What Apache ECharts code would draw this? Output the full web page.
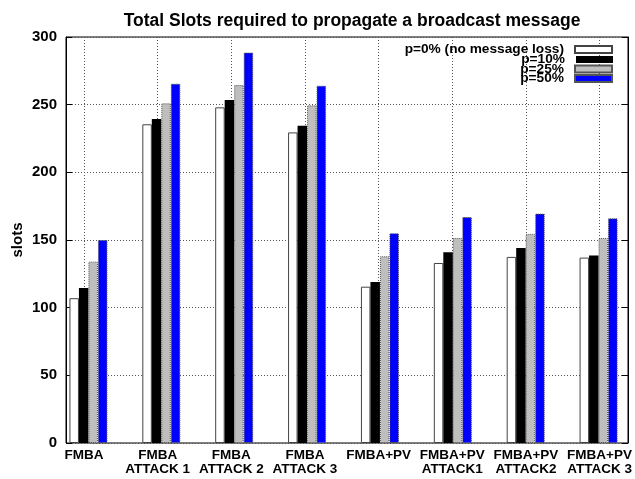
<!DOCTYPE html>
<html>
<head>
  <meta charset="utf-8">
  <title>Total Slots</title>
  <script src="https://cdn.jsdelivr.net/npm/echarts@6/dist/echarts.min.js"></script>
  <style>
    html, body { margin: 0; padding: 0; background: #fff; }
  </style>
</head>
<body>
<div id="main" style="width: 635px;height:479px;"></div>
<script type="text/javascript">
  // data
  var categories = ['FMBA', 'FMBA\nATTACK 1', 'FMBA\nATTACK 2', 'FMBA\nATTACK 3',
    'FMBA+PV', 'FMBA+PV\nATTACK1', 'FMBA+PV\nATTACK2', 'FMBA+PV\nATTACK 3'];
  var seriesNames = ['p=0% (no message loss)', 'p=10%', 'p=25%', 'p=50%'];
  var p0  = [107, 235.5, 248, 229.5, 115.5, 133, 137.5, 137];
  var p10 = [114.5, 239.5, 253.5, 234.5, 119, 141, 144, 138.5];
  var p25 = [134, 251, 264.5, 249.5, 138, 151.5, 154.5, 151.5];
  var p50 = [150, 265.5, 288.5, 264, 155, 167, 169.5, 166];
  var yTicks = [0, 50, 100, 150, 200, 250, 300];

  var font = 'Liberation Sans, Arial, Helvetica, sans-serif';
  var dotted = { color: '#555', type: [1, 2], width: 1 };

  var chartDom = document.getElementById('main');
  var myChart = echarts.init(chartDom);

  function legendRow(name, top) {
    return {
      data: [{ name: name, icon: 'rect' }],
      right: 22,
      top: top,
      orient: 'horizontal',
      align: 'right',
      itemWidth: 37,
      itemHeight: 7,
      padding: 0,
      selectedMode: false,
      textStyle: { fontFamily: font, fontWeight: 'bold', fontSize: 13.7, color: '#000', padding: [0, 6, 0, 0] }
    };
  }

  var option = {
    animation: false,
    backgroundColor: '#fff',
    title: {
      text: 'Total Slots required to propagate a broadcast message',
      left: 347,
      top: 7,
      textAlign: 'center',
      textStyle: { fontFamily: font, fontWeight: 'bold', fontSize: 17.5, color: '#000' }
    },
    legend: [
      legendRow(seriesNames[0], 42.5),
      legendRow(seriesNames[1], 52.5),
      legendRow(seriesNames[2], 62),
      legendRow(seriesNames[3], 71.5)
    ],
    grid: [
      // frame + y axis
      { left: 66, top: 37, width: 562, height: 406, show: true, borderColor: '#000', borderWidth: 1, backgroundColor: 'transparent' },
      // bars
      { left: 52, top: 37, width: 592, height: 406 },
      // vertical grid lines + category labels
      { left: 84, top: 37, width: 518, height: 406 }
    ],
    xAxis: [
      { gridIndex: 0, type: 'value', min: 0, max: 1, show: false },
      { gridIndex: 1, type: 'category', data: categories, show: false },
      {
        gridIndex: 2, type: 'category', data: categories, boundaryGap: false,
        axisLine: { show: false }, axisTick: { show: false },
        axisLabel: { fontFamily: font, fontWeight: 'bold', fontSize: 13.5, color: '#000', margin: 6, lineHeight: 13.5, interval: 0 },
        splitLine: { show: true, lineStyle: dotted }
      }
    ],
    yAxis: [
      {
        gridIndex: 0, type: 'value', min: yTicks[0], max: yTicks[yTicks.length - 1], interval: 50,
        name: 'slots', nameLocation: 'middle', nameGap: 41, nameRotate: 90, nameMoveOverlap: false,
        nameTextStyle: { fontFamily: font, fontWeight: 'bold', fontSize: 15, color: '#000' },
        axisLine: { show: true, lineStyle: { color: '#000' } },
        axisTick: { show: true, inside: true, length: 6, lineStyle: { color: '#000' } },
        axisLabel: { fontFamily: font, fontWeight: 'bold', fontSize: 15, color: '#000', margin: 9 },
        splitLine: { show: true, lineStyle: dotted }
      },
      {
        gridIndex: 0, type: 'value', position: 'right', min: yTicks[0], max: yTicks[yTicks.length - 1], interval: 50,
        axisLine: { show: true, lineStyle: { color: '#000' } },
        axisTick: { show: true, inside: true, length: 6, lineStyle: { color: '#000' } },
        axisLabel: { show: false },
        splitLine: { show: false }
      },
      { gridIndex: 1, type: 'value', min: 0, max: 300, show: false, splitLine: { show: false } },
      { gridIndex: 2, type: 'value', min: 0, max: 300, show: false, splitLine: { show: false } }
    ],
    series: [
      {
        name: seriesNames[0], type: 'bar', xAxisIndex: 1, yAxisIndex: 2, data: p0,
        barWidth: 9.5, barGap: '0%',
        itemStyle: { color: '#fff', borderColor: '#444', borderWidth: 1 }
      },
      {
        name: seriesNames[1], type: 'bar', xAxisIndex: 1, yAxisIndex: 2, data: p10,
        barWidth: 9.5, barGap: '0%',
        itemStyle: { color: '#000', borderWidth: 0 }
      },
      {
        name: seriesNames[2], type: 'bar', xAxisIndex: 1, yAxisIndex: 2, data: p25,
        barWidth: 9.5, barGap: '0%',
        itemStyle: { color: '#bebebe', borderColor: '#555', borderWidth: 1, borderType: [1, 1] }
      },
      {
        name: seriesNames[3], type: 'bar', xAxisIndex: 1, yAxisIndex: 2, data: p50,
        barWidth: 9.5, barGap: '0%',
        itemStyle: { color: '#0000ff', borderColor: '#555', borderWidth: 1, borderType: [1, 1] }
      }
    ]
  };

  myChart.setOption(option);
</script>
</body>
</html>
